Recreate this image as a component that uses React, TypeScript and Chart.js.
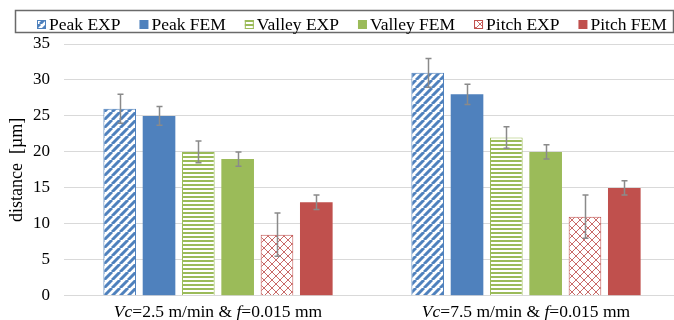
import React, { useEffect, useRef } from 'react';
import { Chart, registerables } from 'chart.js';

Chart.register(...registerables);

// Cutting conditions on the category axis
const categories = ['Vc=2.5 m/min & f=0.015 mm', 'Vc=7.5 m/min & f=0.015 mm'];

// Measured (EXP) vs simulated (FEM) surface profile distances, in µm
const peakExp = [26, 31];
const peakExpErr = [2, 2];
const peakFem = [25, 28];
const peakFemErr = [1.3, 1.4];
const valleyExp = [20, 22];
const valleyExpErr = [1.5, 1.5];
const valleyFem = [19, 20];
const valleyFemErr = [1, 1];
const pitchExp = [8.5, 11];
const pitchExpErr = [3, 3];
const pitchFem = [13, 15];
const pitchFemErr = [1, 1];

// Value axis
const yMin = 0;
const yMax = 35;
const yStep = 5;

const BLUE = '#4F81BD';
const GREEN = '#9BBB59';
const RED = '#C0504D';
const SERIF = '"Liberation Serif", "Times New Roman", serif';

type PatternKind = 'diagonal' | 'horizontal' | 'crosshatch';

function makePattern(kind: PatternKind, color: string): CanvasPattern {
  const tile = document.createElement('canvas');
  const ctx = tile.getContext('2d')!;
  if (kind === 'diagonal') {
    tile.width = 8;
    tile.height = 8;
    ctx.fillStyle = '#fff';
    ctx.fillRect(0, 0, 8, 8);
    ctx.strokeStyle = color;
    ctx.lineWidth = 3;
    ctx.beginPath();
    for (const o of [-8, 0, 8]) {
      ctx.moveTo(o, 8);
      ctx.lineTo(o + 8, 0);
    }
    ctx.stroke();
  } else if (kind === 'horizontal') {
    tile.width = 4;
    tile.height = 4;
    ctx.fillStyle = '#fff';
    ctx.fillRect(0, 0, 4, 4);
    ctx.fillStyle = color;
    ctx.fillRect(0, 0, 4, 2);
  } else {
    tile.width = 8;
    tile.height = 8;
    ctx.fillStyle = '#fff';
    ctx.fillRect(0, 0, 8, 8);
    ctx.strokeStyle = color;
    ctx.globalAlpha = 0.85;
    ctx.lineWidth = 1;
    ctx.beginPath();
    for (const o of [-8, 0, 8]) {
      ctx.moveTo(o, 8);
      ctx.lineTo(o + 8, 0);
      ctx.moveTo(o, 0);
      ctx.lineTo(o + 8, 8);
    }
    ctx.stroke();
  }
  return ctx.createPattern(tile, 'repeat')!;
}

// Vertical error whiskers with short caps
const errorBarsPlugin = {
  id: 'errorBars',
  afterDatasetsDraw(chart: any) {
    const { ctx } = chart;
    const yScale = chart.scales.y;
    ctx.save();
    ctx.strokeStyle = '#8a8a8a';
    ctx.lineWidth = 1.5;
    chart.data.datasets.forEach((ds: any, i: number) => {
      const meta = chart.getDatasetMeta(i);
      meta.data.forEach((bar: any, j: number) => {
        const v = ds.data[j];
        const e = ds.errors[j];
        const x = Math.round(bar.x) + 0.5;
        const top = yScale.getPixelForValue(v + e);
        const bot = yScale.getPixelForValue(v - e);
        ctx.beginPath();
        ctx.moveTo(x, top);
        ctx.lineTo(x, bot);
        ctx.moveTo(x - 3, top);
        ctx.lineTo(x + 3, top);
        ctx.moveTo(x - 3, bot);
        ctx.lineTo(x + 3, bot);
        ctx.stroke();
      });
    });
    ctx.restore();
  },
};

// Framed legend row across the top
const framedLegendPlugin = {
  id: 'framedLegend',
  afterDraw(chart: any) {
    const { ctx } = chart;
    ctx.save();
    ctx.strokeStyle = '#6a6a6a';
    ctx.lineWidth = 1.5;
    ctx.strokeRect(15.5, 10.5, 658, 22);
    ctx.font = `17.5px ${SERIF}`;
    ctx.textBaseline = 'alphabetic';
    ctx.textAlign = 'left';
    let x = 37;
    chart.data.datasets.forEach((ds: any) => {
      ctx.fillStyle = ds.backgroundColor;
      ctx.fillRect(x, 20, 9, 9);
      if (ds.borderWidth > 0) {
        ctx.strokeStyle = ds.borderColor;
        ctx.lineWidth = 1;
        ctx.strokeRect(x + 0.5, 20.5, 8, 8);
      }
      ctx.fillStyle = '#000';
      const tx = x + 12;
      ctx.fillText(ds.label, tx, 30);
      x = tx + ctx.measureText(ds.label).width + 19;
    });
    ctx.restore();
  },
};

// Category labels with italic symbols (Vc, f)
const italicTickPlugin = {
  id: 'italicTicks',
  afterDraw(chart: any) {
    const { ctx } = chart;
    const xScale = chart.scales.x;
    const plain = `17.5px ${SERIF}`;
    const italic = `italic 17.5px ${SERIF}`;
    ctx.save();
    ctx.fillStyle = '#000';
    ctx.textBaseline = 'alphabetic';
    ctx.textAlign = 'left';
    (chart.data.labels as string[]).forEach((label, i) => {
      const parts = label.split(/(Vc(?==)|f(?==))/).filter((p) => p.length > 0);
      const segs = parts.map((p) => ({ text: p, font: p === 'Vc' || p === 'f' ? italic : plain }));
      let total = 0;
      segs.forEach((s) => {
        ctx.font = s.font;
        total += ctx.measureText(s.text).width;
      });
      let x = xScale.getPixelForTick(i) - total / 2;
      const y = xScale.top + 21;
      segs.forEach((s) => {
        ctx.font = s.font;
        ctx.fillText(s.text, x, y);
        x += ctx.measureText(s.text).width;
      });
    });
    ctx.restore();
  },
};

export default function App() {
  const canvasRef = useRef<HTMLCanvasElement>(null);

  useEffect(() => {
    const canvas = canvasRef.current!;
    const exp = (label: string, data: number[], errors: number[], color: string, kind: PatternKind) => ({
      label,
      data,
      errors,
      backgroundColor: makePattern(kind, color),
      borderColor: color,
      borderWidth: 1,
    });
    const fem = (label: string, data: number[], errors: number[], color: string) => ({
      label,
      data,
      errors,
      backgroundColor: color,
      borderColor: color,
      borderWidth: 0,
    });

    const chart = new Chart(canvas, {
      type: 'bar',
      data: {
        labels: categories,
        datasets: [
          exp('Peak EXP', peakExp, peakExpErr, BLUE, 'diagonal'),
          fem('Peak FEM', peakFem, peakFemErr, BLUE),
          exp('Valley EXP', valleyExp, valleyExpErr, GREEN, 'horizontal'),
          fem('Valley FEM', valleyFem, valleyFemErr, GREEN),
          exp('Pitch EXP', pitchExp, pitchExpErr, RED, 'crosshatch'),
          fem('Pitch FEM', pitchFem, pitchFemErr, RED),
        ] as any,
      },
      options: {
        responsive: false,
        devicePixelRatio: 1,
        animation: false,
        layout: { padding: { top: 44, left: 0, right: 0, bottom: 0 } },
        datasets: {
          bar: { barPercentage: 0.83, categoryPercentage: 0.766 },
        },
        plugins: {
          legend: { display: false },
          tooltip: { enabled: false },
        },
        scales: {
          x: {
            grid: { display: false, drawTicks: false },
            border: { color: '#d9d9d9' },
            ticks: {
              color: 'rgba(0,0,0,0)',
              font: { family: SERIF, size: 17 },
              padding: 3,
              maxRotation: 0,
              autoSkip: false,
            },
            afterFit: (scale: any) => {
              scale.height = 23;
            },
          },
          y: {
            min: yMin,
            max: yMax,
            grid: { color: '#d9d9d9', drawTicks: false },
            border: { display: false },
            ticks: {
              stepSize: yStep,
              color: '#000',
              font: { family: SERIF, size: 17 },
              padding: 14,
            },
            title: {
              display: true,
              text: 'distance  [µm]',
              color: '#000',
              font: { family: SERIF, size: 18 },
              padding: { top: 6, bottom: 0 },
            },
            afterFit: (scale: any) => {
              scale.width = 64;
            },
          },
        },
      },
      plugins: [errorBarsPlugin, framedLegendPlugin, italicTickPlugin],
    });

    return () => chart.destroy();
  }, []);

  return (
    <div style={{ position: 'fixed', left: 0, top: 0, width: 680, height: 320, background: '#fff' }}>
      <canvas ref={canvasRef} width={680} height={320} style={{ display: 'block' }} />
    </div>
  );
}
